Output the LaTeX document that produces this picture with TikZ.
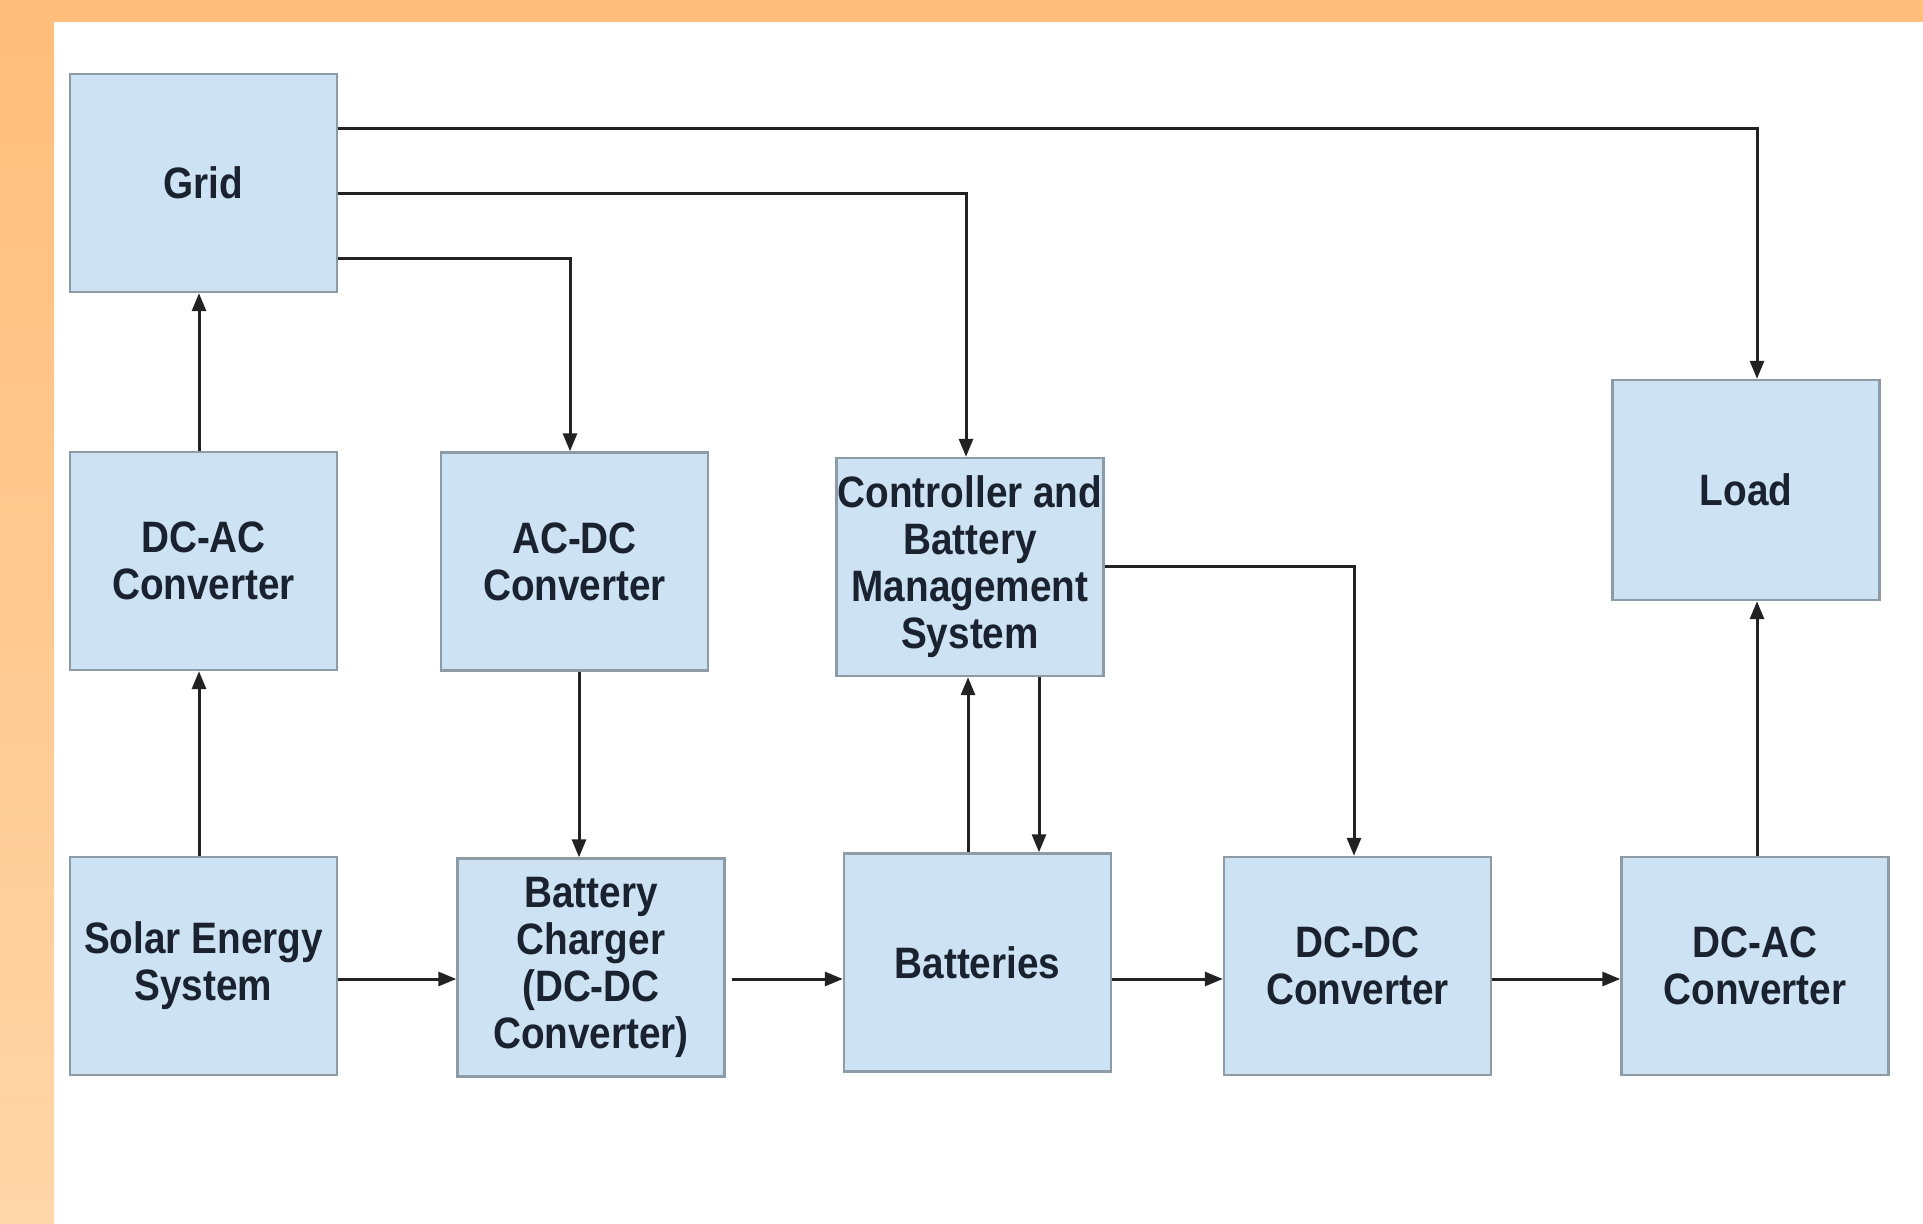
\documentclass[tikz,border=0pt]{standalone}
\usepackage{fontspec}
\setmainfont{Liberation Sans}[FakeStretch=0.88]
\usetikzlibrary{arrows.meta,calc}
\definecolor{orangeA}{HTML}{FFBE7B}
\definecolor{orangeB}{HTML}{FFD6A8}
\definecolor{boxfill}{HTML}{CDE3F3}
\definecolor{boxline}{HTML}{8D9BA6}
\definecolor{txt}{HTML}{1A2230}
\definecolor{wire}{HTML}{222222}
\tikzset{
  blk/.style={draw=boxline, line width=1.2pt, fill=boxfill, rectangle,
    minimum width=133.5pt, minimum height=109pt, inner sep=0pt, align=center,
    text=txt, font=\fontsize{22pt}{23.5pt}\selectfont\bfseries},
  arr/.style={draw=wire, line width=1.5pt, -{Triangle[length=9pt,width=7pt]}}
}
\begin{document}
\begin{tikzpicture}[x=0.5pt,y=-0.5pt]
\useasboundingbox (0,0) rectangle (1923,1224);
\fill[white] (0,0) rectangle (1923,1224);
\fill[orangeA] (0,0) rectangle (1923,22);
\shade[top color=orangeA, bottom color=orangeB] (0,22) rectangle (54,1224);
\fill[orangeA] (0,0) rectangle (54,22);

\node[blk] (grid) at (203.5,183) {Grid};
\node[blk] (dcac1) at (203.5,561) {DC-AC\\Converter};
\node[blk] (acdc) at (574.5,561.5) {AC-DC\\Converter};
\node[blk] (ctrl) at (970,567) {Controller and\\Battery\\Management\\System};
\node[blk, minimum height=110pt] (load) at (1746,490) {Load};
\node[blk] (solar) at (203.5,966) {Solar Energy\\System};
\node[blk] (charger) at (591,967.5) {Battery\\Charger\\(DC-DC\\Converter)};
\node[blk] (batt) at (977.5,962.5) {Batteries};
\node[blk] (dcdc) at (1357.5,966) {DC-DC\\Converter};
\node[blk] (dcac2) at (1755,966) {DC-AC\\Converter};

% from Grid
\draw[arr] ([yshift=27pt]grid.east) -| ([xshift=5.5pt]load.north);
\draw[arr] ([yshift=-5.5pt]grid.east) -| ([xshift=-2pt]ctrl.north);
\draw[arr] ([yshift=-38pt]grid.east) -| ([xshift=-2.25pt]acdc.north);
% left column
\draw[arr] ([xshift=-2.25pt]dcac1.north) -- ([xshift=-2.25pt]grid.south);
\draw[arr] ([xshift=-2.25pt]solar.north) -- ([xshift=-2.25pt]dcac1.south);
% AC-DC to charger
\draw[arr] ([xshift=2.25pt]acdc.south) -- ([xshift=2.25pt]acdc.south |- charger.north);
% bottom chain
\draw[arr] ([yshift=-6.5pt]solar.east) -- ([yshift=-6.5pt]solar.east -| charger.west);
\draw[arr] ([xshift=3pt,yshift=-5.75pt]charger.east) -- ([yshift=-5.75pt]charger.east -| batt.west);
\draw[arr] ([yshift=-6.5pt]dcdc.west -| batt.east) -- ([yshift=-6.5pt]dcdc.west);
\draw[arr] ([yshift=-6.5pt]dcdc.east) -- ([yshift=-6.5pt]dcdc.east -| dcac2.west);
% controller and batteries
\draw[arr] ([xshift=-4.75pt]batt.north) -- ([xshift=-4.75pt]batt.north |- ctrl.south);
\draw[arr] ([xshift=34.5pt]ctrl.south) -- ([xshift=34.5pt]ctrl.south |- batt.north);
\draw[arr] (ctrl.east) -| ([xshift=-1.75pt]dcdc.north);
% to load
\draw[arr] ([xshift=1pt]dcac2.north) -- ([xshift=1pt]dcac2.north |- load.south);
\end{tikzpicture}
\end{document}
